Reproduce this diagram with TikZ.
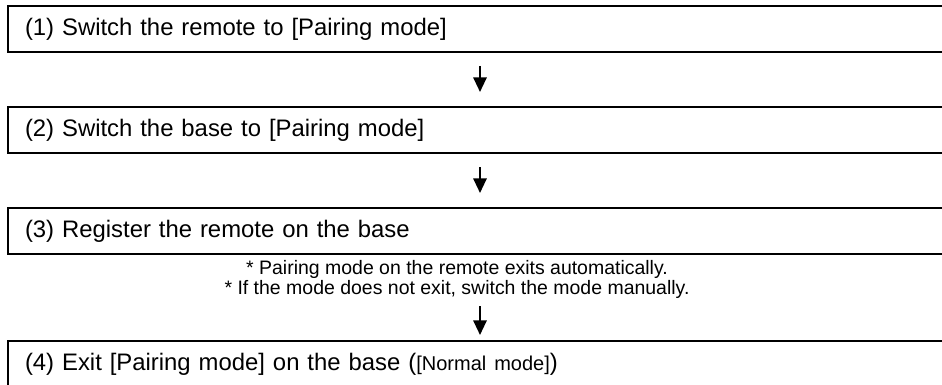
\documentclass[tikz,border=0pt]{standalone}
\usepackage{fontspec}
\setmainfont{Liberation Sans}
\usepackage{xcolor}
\usepackage{tikz}
\usetikzlibrary{arrows.meta, positioning, calc}

\begin{document}
\begin{tikzpicture}[
    x=0.75pt, y=-0.75pt,
    stepbox/.style={rectangle, draw, line width=1.5pt, anchor=west, minimum width=714.75pt, minimum height=34.5pt, inner xsep=12.75pt, text width=689.25pt, align=left, font=\fontsize{17.9pt}{21pt}\selectfont},
    notetext/.style={align=center, inner sep=0pt, font=\fontsize{14.6pt}{15pt}\selectfont},
    flowarrow/.style={line width=1.5pt, -{Triangle[width=10pt,length=11pt]}}
]
    \clip (0,0) rectangle (942,385);

    \node[stepbox] (pair1) at (7,29) {(1) Switch the remote to [Pairing mode]};
    \node[stepbox] (pair2) at (7,130) {(2) Switch the base to [Pairing mode]};
    \node[stepbox] (pair3) at (7,231) {(3) Register the remote on the base};
    \node[notetext] (note) at (457,279) {
        * Pairing mode on the remote exits automatically.\\
        * If the mode does not exit, switch the mode manually.
    };
    \node[stepbox] (pair4) at (7,364) {(4) Exit [Pairing mode] on the base ({\fontsize{15pt}{15pt}\selectfont[Normal mode]})};

    \coordinate (ax) at (480,0);
    \draw[flowarrow, shorten <=9.75pt, shorten >=10.5pt] (pair1.south -| ax) -- (pair2.north -| ax);
    \draw[flowarrow, shorten <=9.75pt, shorten >=10.5pt] (pair2.south -| ax) -- (pair3.north -| ax);
    \draw[flowarrow, shorten <=6pt, shorten >=3.75pt] (note.south -| ax) -- (pair4.north -| ax);
\end{tikzpicture}
\end{document}
